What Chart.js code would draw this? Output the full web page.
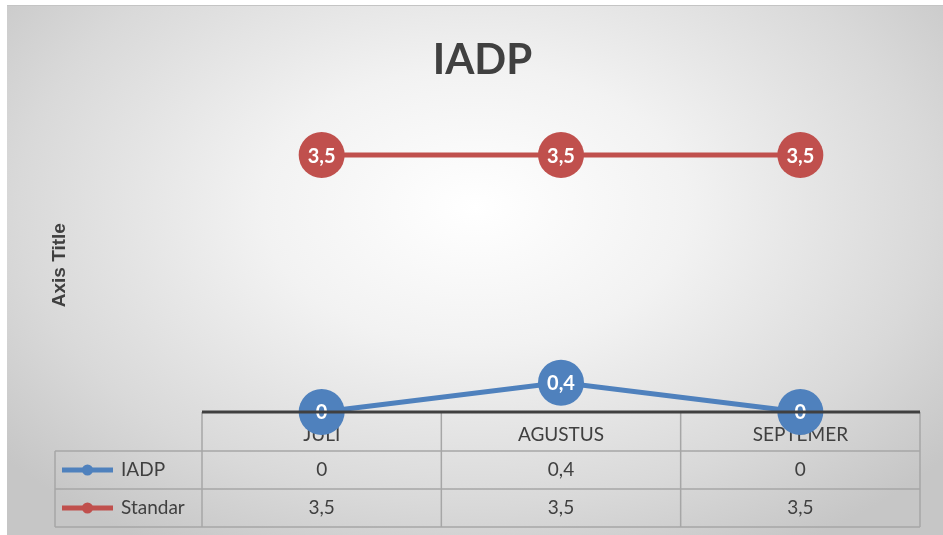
<!DOCTYPE html>
<html>
<head>
<meta charset="utf-8">
<script src="https://cdn.jsdelivr.net/npm/chart.js@4/dist/chart.umd.min.js"></script>
<style>
  html, body { margin: 0; padding: 0; background: #ffffff; }
  #wrap { position: relative; width: 943px; height: 535px; overflow: hidden; }
  #bg { position: absolute; left: 7px; top: 5px; right: 0; bottom: 0;
        border-top: 1px solid #c4c4c4;
        background: radial-gradient(ellipse 65% 75% at 50% 38%, #ffffff 0%, #f2f2f2 35%, #d9d9d9 75%, #c6c6c6 100%); }
  #c { position: absolute; left: 0; top: 0; }
</style>
</head>
<body>
<div id="wrap">
  <div id="bg"></div>
  <canvas id="c" width="943" height="535"></canvas>
</div>
<script>
const categories = ['JULI', 'AGUSTUS', 'SEPTEMER'];
const seriesNames = ['IADP', 'Standar'];
const iadpValues = [0, 0.4, 0];
const standarValues = [3.5, 3.5, 3.5];
const seriesColors = ['#4F81BD', '#C0504D'];
const chartTitle = 'IADP';
const yAxisTitle = 'Axis Title';

const fmt = v => String(v).replace('.', ',');
const FONT = 'Lato, "Open Sans", sans-serif';

const tablePlugin = {
  id: 'tablePlugin',
  afterDatasetsDraw(chart) {
    const ctx = chart.ctx;
    const x = chart.scales.x;
    const area = chart.chartArea;
    const n = categories.length;
    const colW = (area.right - area.left) / n;
    const rowH = 38;
    const headerBottom = area.bottom + 39;
    const tableLeft = 55;
    const datasets = chart.data.datasets;

    // data labels
    datasets.forEach((ds, di) => {
      const meta = chart.getDatasetMeta(di);
      meta.data.forEach((pt, i) => {
        ctx.save();
        ctx.fillStyle = '#ffffff';
        ctx.font = 'bold 20px ' + FONT;
        ctx.textAlign = 'center';
        ctx.textBaseline = 'middle';
        ctx.fillText(fmt(ds.data[i]), pt.x, pt.y + 1);
        ctx.restore();
      });
    });

    ctx.save();
    // table grid
    ctx.strokeStyle = '#a6a6a6';
    ctx.lineWidth = 1.5;
    ctx.beginPath();
    for (let r = 0; r <= datasets.length; r++) {
      const y = headerBottom + r * rowH;
      ctx.moveTo(tableLeft, y);
      ctx.lineTo(area.right, y);
    }
    ctx.moveTo(tableLeft, headerBottom);
    ctx.lineTo(tableLeft, headerBottom + datasets.length * rowH);
    for (let c = 0; c <= n; c++) {
      const xx = c === 0 ? area.left : (c === n ? area.right : x.getPixelForValue(c) - colW / 2);
      ctx.moveTo(xx, area.bottom);
      ctx.lineTo(xx, headerBottom + datasets.length * rowH);
    }
    ctx.stroke();

    // table values and legend keys
    datasets.forEach((ds, di) => {
      const cy = headerBottom + di * rowH + rowH / 2;
      ctx.strokeStyle = ds.borderColor;
      ctx.lineWidth = 5;
      ctx.beginPath();
      ctx.moveTo(62, cy);
      ctx.lineTo(113, cy);
      ctx.stroke();
      ctx.fillStyle = ds.borderColor;
      ctx.beginPath();
      ctx.arc(87.5, cy, 5.5, 0, Math.PI * 2);
      ctx.fill();
      ctx.fillStyle = '#404040';
      ctx.font = '19px ' + FONT;
      ctx.textBaseline = 'middle';
      ctx.textAlign = 'left';
      ctx.fillText(ds.label, 121, cy);
      ctx.textAlign = 'center';
      ds.data.forEach((v, i) => {
        ctx.fillText(fmt(v), x.getPixelForValue(i), cy);
      });
    });

    // axis line on top
    ctx.strokeStyle = '#404040';
    ctx.lineWidth = 3;
    ctx.beginPath();
    ctx.moveTo(area.left, area.bottom);
    ctx.lineTo(area.right, area.bottom);
    ctx.stroke();
    ctx.restore();
  }
};

new Chart(document.getElementById('c'), {
  type: 'line',
  data: {
    labels: categories,
    datasets: [
      { label: seriesNames[0], data: iadpValues, borderColor: seriesColors[0], backgroundColor: seriesColors[0],
        borderWidth: 5, pointRadius: 23, pointHoverRadius: 23, pointBorderWidth: 0, clip: false, tension: 0 },
      { label: seriesNames[1], data: standarValues, borderColor: seriesColors[1], backgroundColor: seriesColors[1],
        borderWidth: 5, pointRadius: 23, pointHoverRadius: 23, pointBorderWidth: 0, clip: false, tension: 0 }
    ]
  },
  options: {
    responsive: false,
    animation: false,
    events: [],
    layout: { padding: { left: 44, right: 22, top: 0, bottom: 0 } },
    plugins: {
      legend: { display: false },
      tooltip: { enabled: false },
      title: {
        display: true, text: chartTitle, color: '#404040',
        font: { family: FONT, size: 42, weight: 'bold', lineHeight: 1.2 },
        padding: { top: 35, bottom: 33 }
      }
    },
    scales: {
      x: {
        offset: true,
        grid: { display: false, drawTicks: false },
        border: { display: false },
        ticks: { color: '#404040', padding: 11, font: { family: FONT, size: 19 } },
        afterFit(scale) { scale.height = 123; }
      },
      y: {
        min: 0, max: 4,
        grid: { display: false, drawTicks: false },
        border: { display: false },
        ticks: { display: false },
        title: { display: true, text: yAxisTitle, color: '#404040',
                 font: { family: '"Liberation Sans", Arial, sans-serif', size: 19, weight: 'bold' } },
        afterFit(scale) { scale.width = 158; }
      }
    }
  },
  plugins: [tablePlugin]
});
</script>
</body>
</html>
